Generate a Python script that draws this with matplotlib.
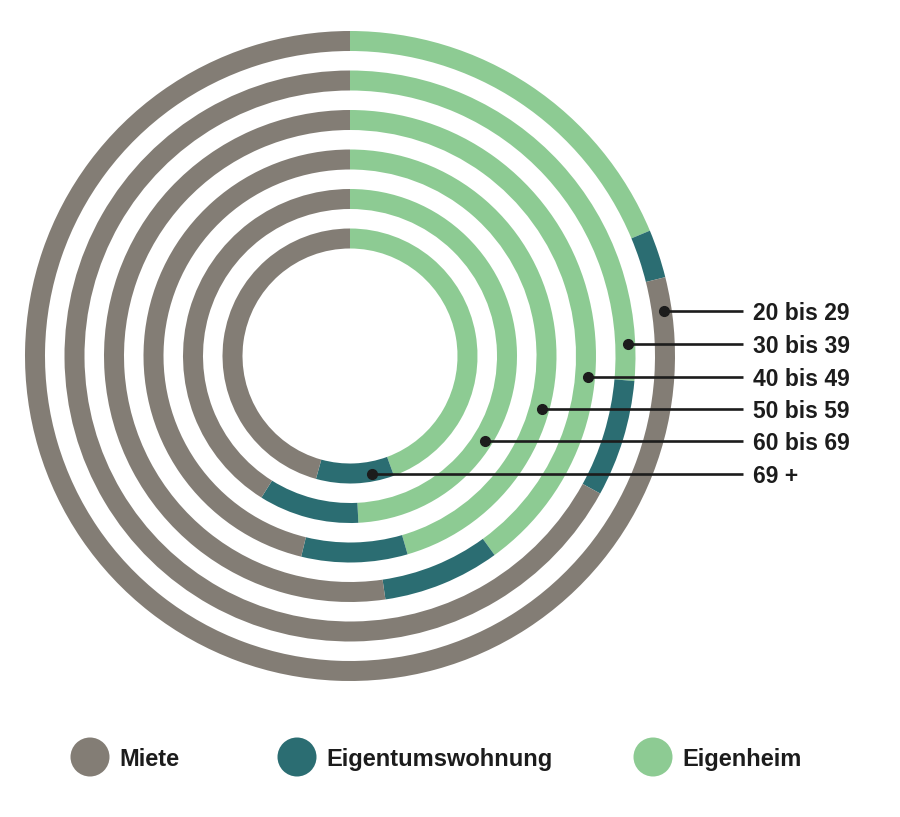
# Concentric ring chart: housing type by age group

import numpy as np
import matplotlib.pyplot as plt

plt.rcParams['font.family'] = ['Liberation Sans', 'DejaVu Sans']

# Data (percent of each age group), outer ring first
age_groups = ['20 bis 29', '30 bis 39', '40 bis 49', '50 bis 59', '60 bis 69', '69 +']
eigenheim = [18.7, 26.4, 40.0, 45.5, 49.2, 44.4]
eigentumswohnung = [2.4, 6.6, 7.7, 8.3, 9.7, 9.9]
miete = [78.9, 67.0, 52.3, 46.2, 41.1, 45.7]

categories = ['Miete', 'Eigentumswohnung', 'Eigenheim']
colors = {'Miete': '#837d75', 'Eigentumswohnung': '#2b6d72', 'Eigenheim': '#8dcb93'}

# Layout in pixels (y measured from the bottom)
W, H = 900, 817
cx, cy = 350, H - 356
r_outer = 325
r_step = 39.5
ring_w = 20
label_y = [311, 344, 376.5, 409, 441, 474]   # image rows of the labels
label_x = 753
line_end = 743

fig = plt.figure(figsize=(W / 100, H / 100), dpi=100)
ax = fig.add_axes([0, 0, 1, 1])

for i, age in enumerate(age_groups):
    r = r_outer - i * r_step
    vals = [eigenheim[i], eigentumswohnung[i], miete[i]]
    ax.pie(vals, radius=r, center=(cx, cy), startangle=90, counterclock=False,
           colors=[colors['Eigenheim'], colors['Eigentumswohnung'], colors['Miete']],
           wedgeprops=dict(width=ring_w, linewidth=0))

    # leader line with dot sitting on the ring
    rm = r - ring_w / 2 + 2.5
    y = H - label_y[i]
    dx = np.sqrt(max(rm ** 2 - (y - cy) ** 2, 0))
    ax.plot([cx + dx, line_end], [y, y], color='#1c1c1c', lw=1.9,
            solid_capstyle='butt', zorder=5)
    ax.plot(cx + dx, y, 'o', color='#1c1c1c', ms=7, zorder=6)
    ax.text(label_x, y, age, fontsize=16.5, fontweight='bold', color='#1c1c1c',
            ha='left', va='center_baseline')

# Legend
legend_x = [90, 297, 653]
legend_y = H - 757
for x, cat in zip(legend_x, categories):
    ax.add_patch(plt.Circle((x, legend_y), 19.5, color=colors[cat], lw=0))
    ax.text(x + 29, legend_y, cat, fontsize=17, fontweight='bold', color='#1c1c1c',
            ha='left', va='center_baseline')

ax.set_xlim(0, W)
ax.set_ylim(0, H)
ax.set_aspect('equal')
ax.axis('off')

plt.savefig('out.png', dpi=100, facecolor='white')
